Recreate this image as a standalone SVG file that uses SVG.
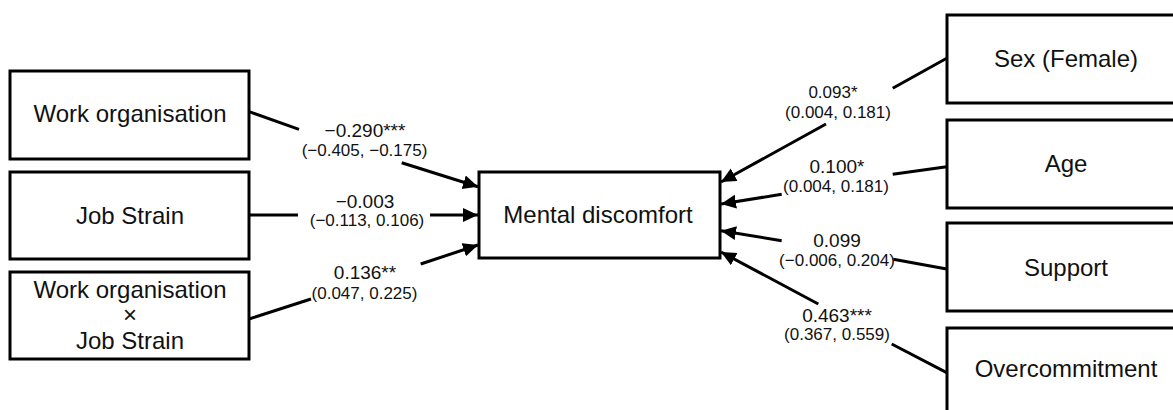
<svg xmlns="http://www.w3.org/2000/svg" width="1173" height="410" viewBox="0 0 1173 410">
<style>
.box{fill:#fff;stroke:#000;stroke-width:3}
.nt{font-family:"Liberation Sans",Arial,sans-serif;font-size:24px;fill:#111;text-anchor:middle}
.l1{font-family:"Liberation Sans",Arial,sans-serif;font-size:19px;fill:#111;text-anchor:middle}
.l2{font-family:"Liberation Sans",Arial,sans-serif;font-size:17px;fill:#111;text-anchor:middle}
.ln{stroke:#000;stroke-width:3;fill:none}
</style>
<defs>
<marker id="ah" markerUnits="userSpaceOnUse" markerWidth="16" markerHeight="16" refX="15" refY="7" orient="auto">
<path d="M0,0 L15,7 L0,14 Z" fill="#000"/>
</marker>
</defs>
<rect width="1173" height="410" fill="#fff"/>
<g id="connectors">
<line class="ln" x1="249" y1="111.7" x2="299" y2="129.3"/>
<line class="ln" x1="401.7" y1="162.7" x2="478" y2="186.7" marker-end="url(#ah)"/>
<line class="ln" x1="249" y1="215" x2="298" y2="215"/>
<line class="ln" x1="430" y1="215" x2="478" y2="215" marker-end="url(#ah)"/>
<line class="ln" x1="249" y1="319" x2="311" y2="299"/>
<line class="ln" x1="420.7" y1="264" x2="478" y2="245" marker-end="url(#ah)"/>
<line class="ln" x1="946.7" y1="58.3" x2="892.7" y2="88.3"/>
<line class="ln" x1="826" y1="124" x2="721" y2="182" marker-end="url(#ah)"/>
<line class="ln" x1="946.7" y1="166.7" x2="892.7" y2="174.3"/>
<line class="ln" x1="781.7" y1="194.3" x2="721" y2="204" marker-end="url(#ah)"/>
<line class="ln" x1="946.7" y1="269" x2="893.3" y2="259.3"/>
<line class="ln" x1="781.7" y1="240.7" x2="721" y2="230.7" marker-end="url(#ah)"/>
<line class="ln" x1="946.7" y1="372.7" x2="891.7" y2="344"/>
<line class="ln" x1="818.3" y1="304" x2="721" y2="252" marker-end="url(#ah)"/>
</g>
<g id="labels">
<text class="l1" x="365" y="137">−0.290***</text>
<text class="l2" x="364.5" y="156">(−0.405, −0.175)</text>
<text class="l1" x="365" y="208">−0.003</text>
<text class="l2" x="367" y="226">(−0.113, 0.106)</text>
<text class="l1" x="365" y="279">0.136**</text>
<text class="l2" x="364.5" y="299">(0.047, 0.225)</text>
<text class="l2" x="833" y="98">0.093*</text>
<text class="l2" x="838" y="118">(0.004, 0.181)</text>
<text class="l1" x="837" y="173">0.100*</text>
<text class="l2" x="836" y="192">(0.004, 0.181)</text>
<text class="l1" x="837" y="247">0.099</text>
<text class="l2" x="837" y="266">(−0.006, 0.204)</text>
<text class="l1" x="837" y="322">0.463***</text>
<text class="l2" x="837" y="340">(0.367, 0.559)</text>
</g>
<g id="node-work-organisation">
<rect class="box" x="10" y="71" width="239" height="88"/>
<text class="nt" x="130" y="122">Work organisation</text>
</g>
<g id="node-job-strain">
<rect class="box" x="10" y="172" width="239" height="87"/>
<text class="nt" x="130" y="224">Job Strain</text>
</g>
<g id="node-interaction">
<rect class="box" x="10" y="272" width="239" height="87"/>
<text class="nt" x="130" y="298">Work organisation</text>
<text class="nt" x="130" y="323">×</text>
<text class="nt" x="130" y="349">Job Strain</text>
</g>
<g id="node-mental-discomfort">
<rect class="box" x="479" y="172" width="241" height="86"/>
<text class="nt" x="598" y="223">Mental discomfort</text>
</g>
<g id="node-sex">
<rect class="box" x="947" y="15" width="240" height="88"/>
<text class="nt" x="1066" y="67">Sex (Female)</text>
</g>
<g id="node-age">
<rect class="box" x="947" y="120" width="240" height="88"/>
<text class="nt" x="1066" y="172">Age</text>
</g>
<g id="node-support">
<rect class="box" x="947" y="223" width="240" height="88"/>
<text class="nt" x="1066" y="276">Support</text>
</g>
<g id="node-overcommitment">
<rect class="box" x="947" y="328" width="240" height="90"/>
<text class="nt" x="1066" y="377">Overcommitment</text>
</g>
</svg>
